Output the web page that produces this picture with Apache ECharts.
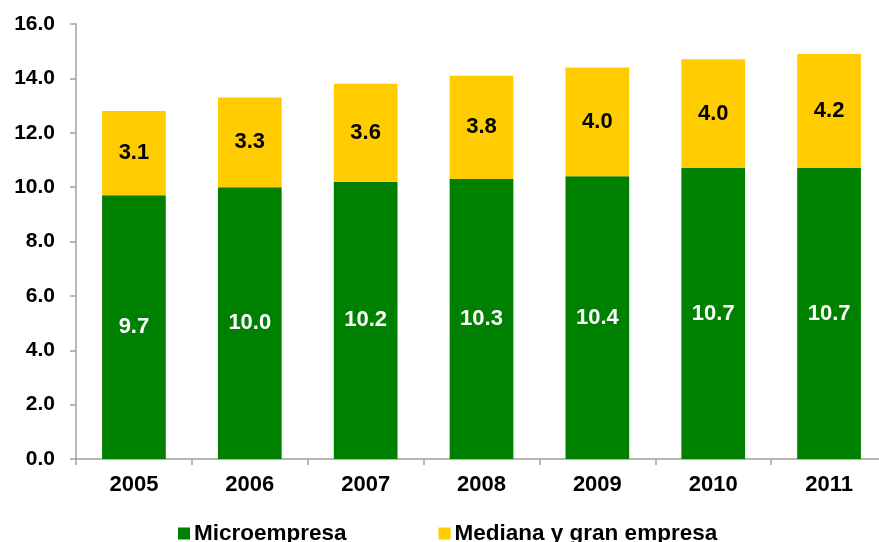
<!DOCTYPE html>
<html>
<head>
<meta charset="utf-8">
<script src="https://cdn.jsdelivr.net/npm/echarts@6/dist/echarts.min.js"></script>
<style>
  html, body { margin: 0; padding: 0; background: #fff; }
  #chart { width: 879px; height: 542px; }
</style>
</head>
<body>
<div id="chart"></div>
<script>
// datos del gráfico
const years = ['2005', '2006', '2007', '2008', '2009', '2010', '2011']
const micro = [9.7, 10.0, 10.2, 10.3, 10.4, 10.7, 10.7]
const mediana = [3.1, 3.3, 3.6, 3.8, 4.0, 4.0, 4.2]

const font = 'Liberation Sans, Arial, sans-serif'
const chart = echarts.init(document.getElementById('chart'))

const option = {
  animation: false,
  textStyle: { fontFamily: font },
  grid: { left: 76, top: 24, bottom: 83, width: 811, outerBoundsMode: 'none' },
  legend: {
    top: 522,
    left: 178,
    padding: 0,
    itemWidth: 12,
    itemHeight: 12,
    itemGap: 92,
    icon: 'rect',
    textStyle: { fontFamily: font, fontWeight: 'bold', fontSize: 22.5, color: '#000', padding: [0, 0, 0, -1] },
    data: ['Microempresa', 'Mediana y gran empresa']
  },
  xAxis: {
    type: 'category',
    data: years,
    axisLine: { lineStyle: { color: '#a0a0a0', width: 1.5 } },
    axisTick: { show: true, length: 6, lineStyle: { color: '#a0a0a0', width: 1.5 } },
    axisLabel: { margin: 15, fontSize: 22, fontWeight: 'bold', color: '#000', fontFamily: font }
  },
  yAxis: {
    type: 'value',
    min: 0,
    max: 16,
    interval: 2,
    splitLine: { show: false },
    axisLine: { show: true, lineStyle: { color: '#a0a0a0', width: 1.5 } },
    axisTick: { show: true, length: 6, lineStyle: { color: '#a0a0a0', width: 1.5 } },
    axisLabel: {
      margin: 21,
      fontSize: 21,
      fontWeight: 'bold',
      color: '#000',
      fontFamily: font,
      formatter: v => v.toFixed(1)
    }
  },
  series: [
    {
      name: 'Microempresa',
      type: 'bar',
      stack: 'total',
      barCategoryGap: '45%',
      itemStyle: { color: '#008000' },
      label: {
        show: true,
        position: 'inside',
        color: '#fff',
        fontSize: 22,
        fontWeight: 'bold',
        fontFamily: font,
        formatter: p => p.value.toFixed(1)
      },
      data: micro
    },
    {
      name: 'Mediana y gran empresa',
      type: 'bar',
      stack: 'total',
      barCategoryGap: '45%',
      itemStyle: { color: '#FFCC00' },
      label: {
        show: true,
        position: 'inside',
        color: '#000',
        fontSize: 22,
        fontWeight: 'bold',
        fontFamily: font,
        formatter: p => p.value.toFixed(1)
      },
      data: mediana
    }
  ]
}

chart.setOption(option)
</script>
</body>
</html>
